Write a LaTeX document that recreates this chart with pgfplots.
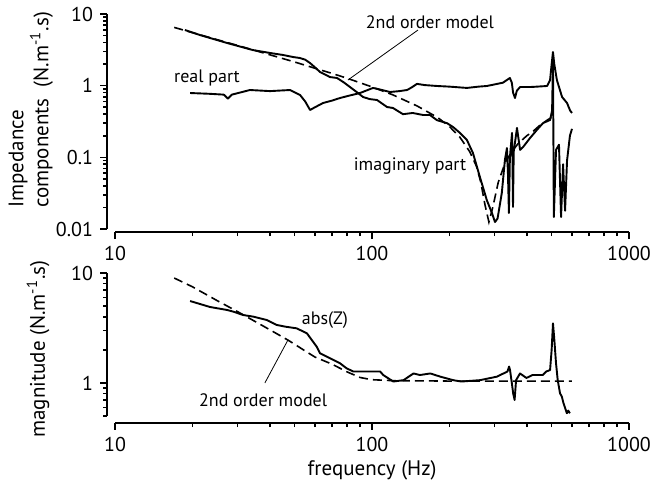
\documentclass[border=0pt]{standalone}
\usepackage{fontspec}
\setmainfont{PT Sans}
\usepackage{pgfplots}
\pgfplotsset{compat=1.18}

\tikzset{
  model/.style={black, dash pattern=on 4.5pt off 2.5pt, line width=0.8pt},
  data/.style={black, line width=0.95pt, line join=round},
  note/.style={font=\fontsize{9}{11}\selectfont},
}
\pgfplotsset{
  every axis/.append style={
    scale only axis, width=261pt,
    xmin=9.308, xmax=1000,
    axis lines=left,
    axis line style={-, line width=0.9pt},
    tick align=outside,
    major tick length=3.5pt, minor tick length=2pt,
    tick style={line width=0.8pt, black},
    xtick={10,100,1000}, xticklabels={10,100,1000},
    minor xtick={20,30,40,50,60,70,80,90,200,300,400,500,600,700,800,900},
    x axis line style={shorten <=4pt},
    ticklabel style={font=\fontsize{10}{12}\selectfont},
    label style={font=\fontsize{10.5}{12.5}\selectfont},
    clip=false,
  },
}

\begin{document}
\begin{tikzpicture}
\useasboundingbox (-53.5pt,-126pt) rectangle (272.5pt,116pt);

% upper panel: real and imaginary parts
\begin{axis}[
  xmode=log, ymode=log,
  height=109pt,
  ymin=0.00908, ymax=10,
  ytick={0.01,0.1,1,10}, yticklabels={0.01,0.1,1,10},
  minor ytick={0.02,0.03,0.04,0.05,0.06,0.07,0.08,0.09,0.2,0.3,0.4,0.5,0.6,0.7,0.8,0.9,2,3,4,5,6,7,8,9},
  y axis line style={shorten <=1.5pt},
  ylabel={Impedance\\components~~(N.m\textsuperscript{-1}.s)},
  ylabel style={align=left, at={(axis description cs:-0.146,0.56)}, anchor=center},
]
\addplot[model] coordinates {
 (17,6.5)(20,5.5)(25,4.38)(30,3.64)(40,2.70)(50,2.14)(60,1.75)(70,1.48)(80,1.27)
 (100,0.96)(120,0.75)(150,0.52)(180,0.36)(200,0.27)(220,0.19)(240,0.12)(255,0.075)
 (265,0.045)(275,0.022)(285,0.0125)(295,0.02)(310,0.045)(330,0.085)(350,0.12)
 (370,0.155)(400,0.2)(420,0.225)(450,0.28)(480,0.33)(505,0.37)};
% imaginary part
\addplot[data] coordinates {
 (18.7,5.98)(21.4,5.09)(27.3,3.94)(34.4,3.14)(40.1,2.86)(45.1,2.68)(49.3,2.51)
 (52.5,2.43)(55,2.3)(57.4,2.07)(60,1.8)(62.8,1.55)(68.6,1.32)(73.1,1.28)(78,1.1)
 (82.1,0.958)(87,0.82)(92.3,0.695)(98,0.65)(104.6,0.631)(114.4,0.504)(120.7,0.488)
 (132,0.40)(144,0.416)(158,0.39)(168,0.39)(179,0.33)(195.8,0.30)(206.7,0.265)
 (220,0.219)(234,0.175)(247,0.115)(263,0.053)(280,0.025)(293,0.0167)(301,0.0125)
 (308,0.014)(320,0.032)(329,0.092)(335,0.135)(338,0.06)(341,0.0167)(344,0.1)
 (350.6,0.219)(352,0.1)(353.7,0.0203)(356,0.12)(366.6,0.257)(377,0.127)(387,0.139)
 (412,0.186)(438,0.241)(463,0.301)(493,0.332)(502,0.45)(506,2.2)(510,0.0147)
 (520,0.127)(534,0.15)(544,0.0147)(554,0.08)(564,0.018)(574,0.09)(589,0.2)(600,0.25)};
% real part
\addplot[data] coordinates {
 (19.6,0.79)(23.4,0.77)(26.5,0.75)(27.5,0.66)(28.5,0.75)(33.5,0.87)(40.1,0.84)
 (48,0.87)(52.5,0.74)(55,0.6)(57.4,0.458)(60,0.5)(64.5,0.573)(70,0.62)(75.1,0.673)
 (82,0.73)(89.8,0.79)(100.9,0.93)(108,0.88)(117.5,0.816)(128,0.84)(136.9,0.87)
 (143,0.95)(149.7,1.06)(160,1.02)(179,0.99)(200,0.97)(234,0.93)(260,0.97)(280,0.99)
 (323,1.1)(344,1.28)(350,1.1)(354,0.8)(360,0.673)(366,0.85)(377,0.958)(420,0.96)
 (480,0.99)(493,1.2)(500,2.0)(506,2.95)(512,2.0)(524,1.2)(549,0.695)(574,0.573)
 (590,0.45)(600,0.416)};
\node[note] at (axis cs:168,7.73) {2nd order model};
\draw[line width=0.4pt] (axis cs:151,5.98) -- (axis cs:80.6,1.2);
\node[note] at (axis cs:22.8,1.28) {real part};
\node[note] at (axis cs:140.6,0.0757) {imaginary part};
\end{axis}

% lower panel: magnitude
\begin{axis}[
  xmode=log, ymode=log,
  at={(0,-95.5pt)}, anchor=south west,
  height=75pt,
  ymin=0.432, ymax=10,
  ytick={1,10}, yticklabels={1,10},
  minor ytick={0.5,0.6,0.7,0.8,0.9,2,3,4,5,6,7,8,9},
  y axis line style={shorten <=3.5pt},
  ylabel={magnitude (N.m\textsuperscript{-1}.s)},
  ylabel style={at={(axis description cs:-0.132,0.493)}, anchor=center},
  xlabel={frequency (Hz)},
  xlabel style={at={(axis description cs:0.508,-0.313)}, anchor=center},
]
\addplot[model] coordinates {
 (17,9.0)(20,7.5)(25,5.6)(30,4.45)(40,3.05)(47,2.46)(50,2.25)(55,1.95)(60,1.72)
 (70,1.48)(80,1.26)(90,1.12)(100,1.07)(120,1.05)(200,1.04)(600,1.04)};
\addplot[data] coordinates {
 (19.6,5.56)(23.4,4.91)(27.3,4.61)(28.9,4.45)(31.5,4.15)(34.5,4.01)(38.9,3.74)
 (42.6,3.37)(46,3.25)(50.9,3.14)(55.8,2.83)(58,2.5)(60.9,2.14)(62.8,1.86)(68.6,1.68)
 (75.1,1.51)(79.6,1.36)(84.6,1.27)(107.6,1.27)(110.6,1.18)(121,1.03)(132.6,1.06)
 (145,1.22)(153.5,1.18)(168.6,1.22)(184.6,1.14)(207,1.06)(222.6,1.03)(263,1.06)
 (306,1.14)(336.5,1.27)(341.5,1.41)(344.4,1.31)(350,1.0)(354.4,0.80)(358.8,0.70)
 (363.6,1.06)(376.6,1.22)(399,1.11)(421,1.18)(462,1.18)(476,1.27)(493,1.31)
 (500,2.0)(506,3.49)(512,2.5)(520,1.51)(528,1.06)(539,0.805)(548,0.75)(556,0.655)
 (573,0.53)(580,0.56)(589,0.53)};
\node[note] at (axis cs:65.6,3.74) {abs(Z)};
\node[note] at (axis cs:37.7,0.70) {2nd order model};
\draw[line width=0.4pt] (axis cs:38.3,1.0) -- (axis cs:47.1,2.46);
\end{axis}
\end{tikzpicture}
\end{document}
